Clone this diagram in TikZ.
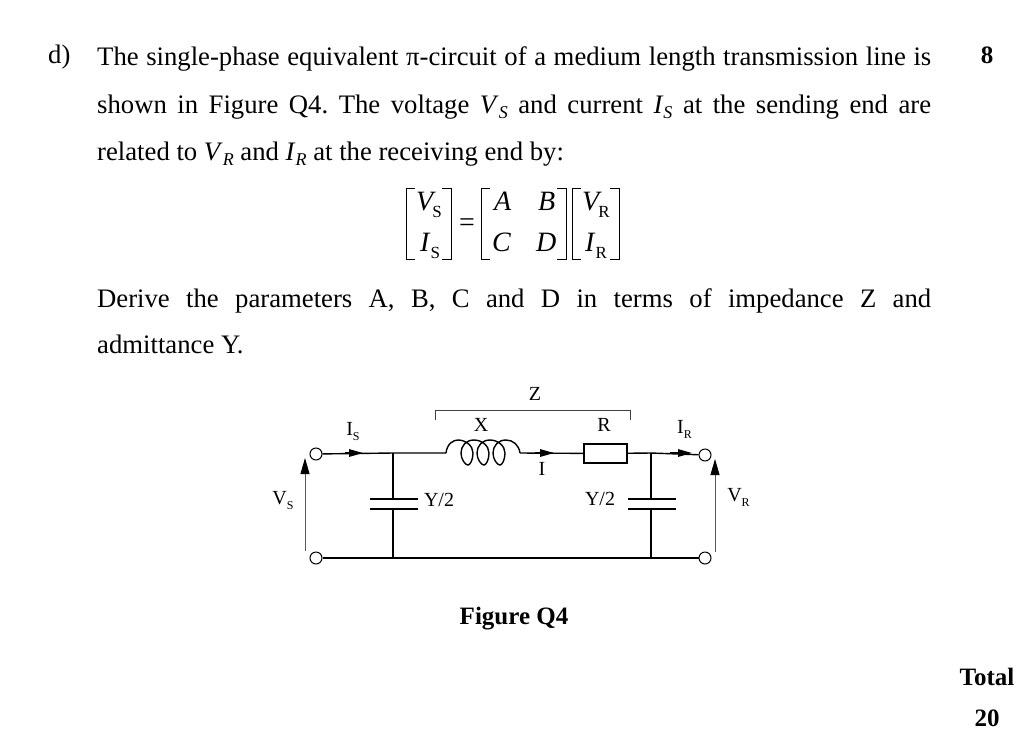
\documentclass[tikz,border=0pt]{standalone}
\usepackage{fontspec}
\setmainfont{Liberation Serif}
\usetikzlibrary{arrows.meta}
\frenchspacing
\def\bodysize{\fontsize{26.7}{30}\selectfont}
\def\sublow#1#2{\textit{#1}\raisebox{-0.22em}{\fontsize{18}{20}\selectfont\textit{#2}}}
\def\entry#1#2{\textit{#1}\raisebox{-0.25em}{\fontsize{17}{20}\selectfont #2}}
\def\cirsub#1#2{#1\raisebox{-0.25em}{\fontsize{12}{15}\selectfont #2}}
\def\textrow#1{\makebox[834pt][s]{#1}}
\tikzset{
	line/.style={anchor=base west,inner sep=0pt,font=\bodysize},
	cell/.style={anchor=base west,inner sep=0pt,font=\fontsize{28}{30}\selectfont},
	head/.style={inner sep=0pt,font=\fontsize{25}{30}\selectfont\bfseries},
	cirlabel/.style={inner sep=0pt,font=\fontsize{20}{24}\selectfont},
	wire/.style={line width=1.4pt},
	terminal/.style={circle,draw,line width=1pt,fill=white,minimum size=12pt,inner sep=0pt},
	plate/.style={line width=1.3pt},
	flow/.style={wire,-{Triangle[length=14pt,width=7.5pt]}},
	volt/.style={line width=0.8pt,black!65,-{Triangle[length=16pt,width=9pt,black]}},
	brace/.style={line width=1pt,black!75},
	bracket/.style={line width=1pt}
}
\begin{document}
\begin{tikzpicture}[x=1pt,y=-1pt]
	%%%%% START %%%%%
	\useasboundingbox[fill=white] (0,0) rectangle (1024,755);
	
	\node[line] (part) at (48,63.5) {d)};
	\node[line] (row1) at (97,65) {\textrow{The single-phase equivalent π-circuit of a medium length transmission line is}};
	\node[line] (row2) at (97,113) {\textrow{shown in Figure Q4. The voltage \sublow{V}{S} and current \sublow{I}{S} at the sending end are}};
	\node[line] (row3) at (97,160) {related to \sublow{V}{R} and \sublow{I}{R} at the receiving end by:};
	\node[line] (row4) at (97,307) {\textrow{Derive the parameters A, B, C and D in terms of impedance Z and}};
	\node[line] (row5) at (97,353) {admittance Y.};
	\node[head] (marks) at (987,55) {8};
	\node[head] (total) at (987,677) {Total};
	\node[head] (sum) at (987,718) {20};
	\node[head] (caption) at (514,619) {Figure Q4};
	
	% matrix equation
	\draw[bracket] (415,188) -- (406,188) -- (406,259) -- (415,259);
	\draw[bracket] (442,188) -- (451,188) -- (451,259) -- (442,259);
	\draw[bracket] (490,188) -- (481,188) -- (481,259) -- (490,259);
	\draw[bracket] (557,188) -- (566,188) -- (566,259) -- (557,259);
	\draw[bracket] (581,188) -- (572,188) -- (572,259) -- (581,259);
	\draw[bracket] (610,188) -- (619,188) -- (619,259) -- (610,259);
	\node[cell] (vs) at (416,210) {\entry{V\kern-1pt}{S}};
	\node[cell] (is) at (420,251) {\entry{I}{S}};
	\node[cell] (eq) at (459,231) {=};
	\node[cell] (ma) at (494,210) {\textit{A}};
	\node[cell] (mb) at (538,210) {\textit{B}};
	\node[cell] (mc) at (492,251) {\textit{C}};
	\node[cell] (md) at (536,251) {\textit{D}};
	\node[cell] (vr) at (582,210) {\entry{V\kern-1pt}{R}};
	\node[cell] (ir) at (585,251) {\entry{I}{R}};
	
	% circuit
	\node[terminal] (ta) at (316,454) {};
	\node[terminal] (tb) at (316,558) {};
	\node[terminal] (tc) at (705,455) {};
	\node[terminal] (td) at (705,558) {};
	\node[draw,wire,minimum width=43pt,minimum height=19pt,inner sep=0pt] (res) at (605.5,453.5) {};
	\coordinate (lsta) at (446,453);
	\coordinate (lend) at (520,453);
	\coordinate (ja) at (393,453);
	\coordinate (jb) at (393,558);
	\coordinate (jc) at (651,453);
	\coordinate (jd) at (651,558);
	\coordinate (capa) at (393,499);
	\coordinate (capb) at (393,509);
	\coordinate (capc) at (651,499);
	\coordinate (capd) at (651,509);
	
	\draw[wire] (ta) -- (ja) -- (lsta);
	\draw[wire] (lend) -- (res);
	\draw[wire] (res) -- (jc) -- (tc);
	\draw[wire] (tb) -- (jb) -- (jd) -- (td);
	\draw[wire] (ja) -- (capa);
	\draw[wire] (capb) -- (jb);
	\draw[wire] (jc) -- (capc);
	\draw[wire] (capd) -- (jd);
	\draw[plate] (370,499) -- (418,499);
	\draw[plate] (370,509) -- (418,509);
	\draw[plate] (628,499) -- (676,499);
	\draw[plate] (628,509) -- (676,509);
	
	% coil
	\draw[wire] (lsta) .. controls (447,444) and (453,440) .. (458,440)
		.. controls (466,440) and (473,446) .. (473,453) .. controls (473,460) and (470,465) .. (468,465)
		.. controls (465,465) and (461,459) .. (461,453) .. controls (461,446) and (466,440) .. (474,440)
		.. controls (482,440) and (489,446) .. (489,453) .. controls (489,460) and (486,465) .. (484,465)
		.. controls (481,465) and (477,459) .. (477,453) .. controls (477,446) and (482,440) .. (490,440)
		.. controls (498,440) and (505,446) .. (505,453) .. controls (505,460) and (502,465) .. (500,465)
		.. controls (497,465) and (493,459) .. (493,453) .. controls (493,446) and (498,440) .. (506,440)
		.. controls (513,440) and (519,445) .. (lend);
	
	\coordinate (ia) at (345,453);
	\coordinate (ib) at (363,453);
	\coordinate (ic) at (535,453);
	\coordinate (id) at (554,453);
	\coordinate (ie) at (670,453);
	\coordinate (if) at (692,453);
	\draw[flow] (ia) -- (ib);
	\draw[flow] (ic) -- (id);
	\draw[flow] (ie) -- (if);
	
	\coordinate (va) at (305,551);
	\coordinate (vb) at (305,458);
	\coordinate (vc) at (715,552);
	\coordinate (vd) at (715,459);
	\draw[volt] (va) -- (vb);
	\draw[volt] (vc) -- (vd);
	
	\draw[brace] (435,420) -- (435,410) -- (630,410) -- (630,420);
	
	\node[cirlabel] (lz) at (535,394) {Z};
	\node[cirlabel] (lx) at (481,425) {X};
	\node[cirlabel] (lr) at (604,425) {R};
	\node[cirlabel] (lis) at (353,432) {\cirsub{I}{S}};
	\node[cirlabel] (lir) at (684.5,429) {\cirsub{I}{R}};
	\node[cirlabel] (li) at (542,469) {I};
	\node[cirlabel] (ly) at (439,500) {Y/2};
	\node[cirlabel] (lyb) at (600,499) {Y/2};
	\node[cirlabel] (lvs) at (283,500.5) {\cirsub{V}{S}};
	\node[cirlabel] (lvr) at (738.5,497.5) {\cirsub{V}{R}};
	%%%%% END %%%%%
\end{tikzpicture}
\end{document}
